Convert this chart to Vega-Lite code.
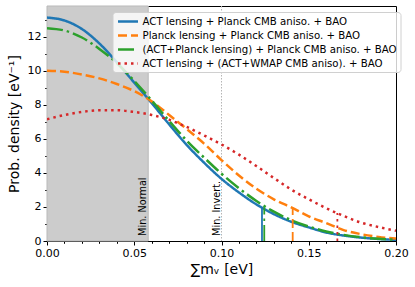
{
  "$schema": "https://vega.github.io/schema/vega-lite/v6.json",
  "width": 349,
  "height": 235,
  "autosize": {"type": "none"},
  "padding": {"left": 47, "top": 6, "right": 19, "bottom": 46},
  "config": {
    "view": {"stroke": "#000", "strokeWidth": 1},
    "font": "DejaVu Sans",
    "axis": {"labelFont": "DejaVu Sans", "titleFont": "DejaVu Sans", "domainColor": "#000", "tickColor": "#000", "labelColor": "#000", "titleColor": "#000", "grid": false, "titleFontWeight": "normal"},
    "text": {"font": "DejaVu Sans"}
  },
  "datasets": {
    "curves": [
      {"series": "ACT lensing + Planck CMB aniso. + BAO", "x": 0.00, "y": 13.12},
      {"series": "ACT lensing + Planck CMB aniso. + BAO", "x": 0.01, "y": 12.95},
      {"series": "ACT lensing + Planck CMB aniso. + BAO", "x": 0.02, "y": 12.45},
      {"series": "ACT lensing + Planck CMB aniso. + BAO", "x": 0.03, "y": 11.6},
      {"series": "ACT lensing + Planck CMB aniso. + BAO", "x": 0.04, "y": 10.5},
      {"series": "ACT lensing + Planck CMB aniso. + BAO", "x": 0.05, "y": 9.3},
      {"series": "ACT lensing + Planck CMB aniso. + BAO", "x": 0.06, "y": 8.1},
      {"series": "ACT lensing + Planck CMB aniso. + BAO", "x": 0.07, "y": 6.85},
      {"series": "ACT lensing + Planck CMB aniso. + BAO", "x": 0.08, "y": 5.65},
      {"series": "ACT lensing + Planck CMB aniso. + BAO", "x": 0.09, "y": 4.6},
      {"series": "ACT lensing + Planck CMB aniso. + BAO", "x": 0.10, "y": 3.65},
      {"series": "ACT lensing + Planck CMB aniso. + BAO", "x": 0.11, "y": 2.85},
      {"series": "ACT lensing + Planck CMB aniso. + BAO", "x": 0.12, "y": 2.15},
      {"series": "ACT lensing + Planck CMB aniso. + BAO", "x": 0.13, "y": 1.58},
      {"series": "ACT lensing + Planck CMB aniso. + BAO", "x": 0.14, "y": 1.13},
      {"series": "ACT lensing + Planck CMB aniso. + BAO", "x": 0.15, "y": 0.8},
      {"series": "ACT lensing + Planck CMB aniso. + BAO", "x": 0.16, "y": 0.5},
      {"series": "ACT lensing + Planck CMB aniso. + BAO", "x": 0.17, "y": 0.32},
      {"series": "ACT lensing + Planck CMB aniso. + BAO", "x": 0.18, "y": 0.2},
      {"series": "ACT lensing + Planck CMB aniso. + BAO", "x": 0.19, "y": 0.12},
      {"series": "ACT lensing + Planck CMB aniso. + BAO", "x": 0.20, "y": 0.07},
      {"series": "Planck lensing + Planck CMB aniso. + BAO", "x": 0.00, "y": 10.0},
      {"series": "Planck lensing + Planck CMB aniso. + BAO", "x": 0.01, "y": 9.94},
      {"series": "Planck lensing + Planck CMB aniso. + BAO", "x": 0.02, "y": 9.78},
      {"series": "Planck lensing + Planck CMB aniso. + BAO", "x": 0.03, "y": 9.55},
      {"series": "Planck lensing + Planck CMB aniso. + BAO", "x": 0.04, "y": 9.22},
      {"series": "Planck lensing + Planck CMB aniso. + BAO", "x": 0.05, "y": 8.8},
      {"series": "Planck lensing + Planck CMB aniso. + BAO", "x": 0.06, "y": 8.2},
      {"series": "Planck lensing + Planck CMB aniso. + BAO", "x": 0.07, "y": 7.4},
      {"series": "Planck lensing + Planck CMB aniso. + BAO", "x": 0.08, "y": 6.58},
      {"series": "Planck lensing + Planck CMB aniso. + BAO", "x": 0.09, "y": 5.72},
      {"series": "Planck lensing + Planck CMB aniso. + BAO", "x": 0.10, "y": 4.75},
      {"series": "Planck lensing + Planck CMB aniso. + BAO", "x": 0.11, "y": 3.85},
      {"series": "Planck lensing + Planck CMB aniso. + BAO", "x": 0.12, "y": 3.07},
      {"series": "Planck lensing + Planck CMB aniso. + BAO", "x": 0.13, "y": 2.45},
      {"series": "Planck lensing + Planck CMB aniso. + BAO", "x": 0.14, "y": 1.97},
      {"series": "Planck lensing + Planck CMB aniso. + BAO", "x": 0.15, "y": 1.45},
      {"series": "Planck lensing + Planck CMB aniso. + BAO", "x": 0.16, "y": 1.05},
      {"series": "Planck lensing + Planck CMB aniso. + BAO", "x": 0.17, "y": 0.64},
      {"series": "Planck lensing + Planck CMB aniso. + BAO", "x": 0.18, "y": 0.4},
      {"series": "Planck lensing + Planck CMB aniso. + BAO", "x": 0.19, "y": 0.24},
      {"series": "Planck lensing + Planck CMB aniso. + BAO", "x": 0.20, "y": 0.14},
      {"series": "(ACT+Planck lensing) + Planck CMB aniso. + BAO", "x": 0.00, "y": 12.5},
      {"series": "(ACT+Planck lensing) + Planck CMB aniso. + BAO", "x": 0.01, "y": 12.36},
      {"series": "(ACT+Planck lensing) + Planck CMB aniso. + BAO", "x": 0.02, "y": 11.95},
      {"series": "(ACT+Planck lensing) + Planck CMB aniso. + BAO", "x": 0.03, "y": 11.28},
      {"series": "(ACT+Planck lensing) + Planck CMB aniso. + BAO", "x": 0.04, "y": 10.45},
      {"series": "(ACT+Planck lensing) + Planck CMB aniso. + BAO", "x": 0.05, "y": 9.4},
      {"series": "(ACT+Planck lensing) + Planck CMB aniso. + BAO", "x": 0.06, "y": 8.25},
      {"series": "(ACT+Planck lensing) + Planck CMB aniso. + BAO", "x": 0.07, "y": 7.05},
      {"series": "(ACT+Planck lensing) + Planck CMB aniso. + BAO", "x": 0.08, "y": 5.9},
      {"series": "(ACT+Planck lensing) + Planck CMB aniso. + BAO", "x": 0.09, "y": 4.9},
      {"series": "(ACT+Planck lensing) + Planck CMB aniso. + BAO", "x": 0.10, "y": 3.95},
      {"series": "(ACT+Planck lensing) + Planck CMB aniso. + BAO", "x": 0.11, "y": 3.1},
      {"series": "(ACT+Planck lensing) + Planck CMB aniso. + BAO", "x": 0.12, "y": 2.35},
      {"series": "(ACT+Planck lensing) + Planck CMB aniso. + BAO", "x": 0.13, "y": 1.72},
      {"series": "(ACT+Planck lensing) + Planck CMB aniso. + BAO", "x": 0.14, "y": 1.22},
      {"series": "(ACT+Planck lensing) + Planck CMB aniso. + BAO", "x": 0.15, "y": 0.85},
      {"series": "(ACT+Planck lensing) + Planck CMB aniso. + BAO", "x": 0.16, "y": 0.56},
      {"series": "(ACT+Planck lensing) + Planck CMB aniso. + BAO", "x": 0.17, "y": 0.36},
      {"series": "(ACT+Planck lensing) + Planck CMB aniso. + BAO", "x": 0.18, "y": 0.22},
      {"series": "(ACT+Planck lensing) + Planck CMB aniso. + BAO", "x": 0.19, "y": 0.13},
      {"series": "(ACT+Planck lensing) + Planck CMB aniso. + BAO", "x": 0.20, "y": 0.08},
      {"series": "ACT lensing + (ACT+WMAP CMB aniso). + BAO", "x": 0.00, "y": 7.15},
      {"series": "ACT lensing + (ACT+WMAP CMB aniso). + BAO", "x": 0.01, "y": 7.4},
      {"series": "ACT lensing + (ACT+WMAP CMB aniso). + BAO", "x": 0.02, "y": 7.58},
      {"series": "ACT lensing + (ACT+WMAP CMB aniso). + BAO", "x": 0.03, "y": 7.68},
      {"series": "ACT lensing + (ACT+WMAP CMB aniso). + BAO", "x": 0.04, "y": 7.68},
      {"series": "ACT lensing + (ACT+WMAP CMB aniso). + BAO", "x": 0.05, "y": 7.58},
      {"series": "ACT lensing + (ACT+WMAP CMB aniso). + BAO", "x": 0.06, "y": 7.4},
      {"series": "ACT lensing + (ACT+WMAP CMB aniso). + BAO", "x": 0.07, "y": 7.12},
      {"series": "ACT lensing + (ACT+WMAP CMB aniso). + BAO", "x": 0.08, "y": 6.7},
      {"series": "ACT lensing + (ACT+WMAP CMB aniso). + BAO", "x": 0.09, "y": 6.2},
      {"series": "ACT lensing + (ACT+WMAP CMB aniso). + BAO", "x": 0.10, "y": 5.67},
      {"series": "ACT lensing + (ACT+WMAP CMB aniso). + BAO", "x": 0.11, "y": 5.07},
      {"series": "ACT lensing + (ACT+WMAP CMB aniso). + BAO", "x": 0.12, "y": 4.4},
      {"series": "ACT lensing + (ACT+WMAP CMB aniso). + BAO", "x": 0.13, "y": 3.7},
      {"series": "ACT lensing + (ACT+WMAP CMB aniso). + BAO", "x": 0.14, "y": 3.02},
      {"series": "ACT lensing + (ACT+WMAP CMB aniso). + BAO", "x": 0.15, "y": 2.45},
      {"series": "ACT lensing + (ACT+WMAP CMB aniso). + BAO", "x": 0.16, "y": 1.93},
      {"series": "ACT lensing + (ACT+WMAP CMB aniso). + BAO", "x": 0.17, "y": 1.47},
      {"series": "ACT lensing + (ACT+WMAP CMB aniso). + BAO", "x": 0.18, "y": 1.08},
      {"series": "ACT lensing + (ACT+WMAP CMB aniso). + BAO", "x": 0.19, "y": 0.82},
      {"series": "ACT lensing + (ACT+WMAP CMB aniso). + BAO", "x": 0.20, "y": 0.6}
    ],
    "limits": [
      {"series": "ACT lensing + Planck CMB aniso. + BAO", "x": 0.1232, "lo": 0, "top": 1.96},
      {"series": "Planck lensing + Planck CMB aniso. + BAO", "x": 0.1408, "lo": 0, "top": 1.95},
      {"series": "(ACT+Planck lensing) + Planck CMB aniso. + BAO", "x": 0.1245, "lo": 0, "top": 1.98},
      {"series": "ACT lensing + (ACT+WMAP CMB aniso). + BAO", "x": 0.1664, "lo": 0, "top": 1.65}
    ],
    "region": [{"x": 0, "x2": 0.058, "lo": 0, "hi": 13.8}],
    "marks": [{"x": 0.1}],
    "notes": [
      {"x": 0.058, "y": 0.3, "label": "Min. Normal"},
      {"x": 0.1, "y": 0.3, "label": "Min. Invert."}
    ]
  },
  "encoding": {
    "x": {
      "field": "x", "type": "quantitative",
      "scale": {"domain": [0, 0.2], "nice": false, "zero": false},
      "axis": {
        "values": [0, 0.01, 0.02, 0.03, 0.04, 0.05, 0.06, 0.07, 0.08, 0.09, 0.1, 0.11, 0.12, 0.13, 0.14, 0.15, 0.16, 0.17, 0.18, 0.19, 0.2],
        "labelExpr": "abs(datum.value*20-round(datum.value*20))<0.001 ? format(datum.value,'.2f') : ''",
        "tickSize": {"condition": {"test": "abs(datum.value*20-round(datum.value*20))<0.001", "value": 4}, "value": 2.3},
        "labelFlush": false, "labelOverlap": false,
        "labelFontSize": 11, "labelPadding": 2,
        "title": "∑m\u1d65 [eV]", "titleFontSize": 14, "titlePadding": 4
      }
    }
  },
  "layer": [
    {
      "data": {"name": "region"},
      "mark": {"type": "rect", "color": "#cccccc", "stroke": "#b9b9b9", "strokeWidth": 1},
      "encoding": {
        "x2": {"field": "x2"},
        "y": {
          "field": "lo", "type": "quantitative",
          "scale": {"domain": [0, 13.8], "nice": false},
          "axis": {
            "values": [0, 1, 2, 3, 4, 5, 6, 7, 8, 9, 10, 11, 12, 13],
            "labelExpr": "datum.value % 2 === 0 ? format(datum.value,'d') : ''",
            "tickSize": {"condition": {"test": "datum.value % 2 === 0", "value": 4}, "value": 2.3},
            "labelOverlap": false, "labelFontSize": 11, "labelPadding": 2,
            "title": "Prob. density [eV\u207b\u00b9]", "titleFontSize": 14, "titlePadding": 6
          }
        },
        "y2": {"field": "hi"}
      }
    },
    {
      "data": {"name": "marks"},
      "mark": {"type": "rule", "color": "#b5b5b5", "strokeWidth": 1, "strokeDash": [1.5, 1.5]},
      "encoding": {}
    },
    {
      "data": {"name": "curves"},
      "mark": {"type": "line", "interpolate": "monotone", "strokeWidth": 2.5, "clip": true},
      "encoding": {
        "y": {
          "field": "y", "type": "quantitative",
          "scale": {"domain": [0, 13.8], "nice": false},
          "axis": {
            "values": [0, 1, 2, 3, 4, 5, 6, 7, 8, 9, 10, 11, 12, 13],
            "labelExpr": "datum.value % 2 === 0 ? format(datum.value,'d') : ''",
            "tickSize": {"condition": {"test": "datum.value % 2 === 0", "value": 4}, "value": 2.3},
            "labelOverlap": false, "labelFontSize": 11, "labelPadding": 2,
            "title": "Prob. density [eV\u207b\u00b9]", "titleFontSize": 14, "titlePadding": 6
          }
        },
        "color": {
          "field": "series", "type": "nominal",
          "scale": {
            "domain": ["ACT lensing + Planck CMB aniso. + BAO", "Planck lensing + Planck CMB aniso. + BAO", "(ACT+Planck lensing) + Planck CMB aniso. + BAO", "ACT lensing + (ACT+WMAP CMB aniso). + BAO"],
            "range": ["#1f77b4", "#ff7f0e", "#2ca02c", "#d62728"]
          },
          "legend": {
            "title": null, "orient": "none", "legendX": 65.5, "legendY": 6,
            "symbolType": "M-2,0H2", "symbolSize": 100, "symbolStrokeWidth": 2.5, "symbolOffset": 6,
            "labelFontSize": 10.2, "labelFont": "DejaVu Sans", "labelColor": "#000",
            "strokeColor": "#d0d0d0", "fillColor": "rgba(255,255,255,0.8)", "cornerRadius": 3,
            "padding": 3, "rowPadding": 2, "labelOffset": 8, "labelLimit": 400
          }
        },
        "strokeDash": {
          "field": "series", "type": "nominal",
          "scale": {
            "domain": ["ACT lensing + Planck CMB aniso. + BAO", "Planck lensing + Planck CMB aniso. + BAO", "(ACT+Planck lensing) + Planck CMB aniso. + BAO", "ACT lensing + (ACT+WMAP CMB aniso). + BAO"],
            "range": [[1, 0], [9, 4], [16, 4, 2.5, 4], [2.5, 4]]
          }
        }
      }
    },
    {
      "data": {"name": "limits"},
      "mark": {"type": "rule", "strokeWidth": 1.8},
      "encoding": {
        "y": {
          "field": "lo", "type": "quantitative",
          "scale": {"domain": [0, 13.8], "nice": false},
          "axis": {
            "values": [0, 1, 2, 3, 4, 5, 6, 7, 8, 9, 10, 11, 12, 13],
            "labelExpr": "datum.value % 2 === 0 ? format(datum.value,'d') : ''",
            "tickSize": {"condition": {"test": "datum.value % 2 === 0", "value": 4}, "value": 2.3},
            "labelOverlap": false, "labelFontSize": 11, "labelPadding": 2,
            "title": "Prob. density [eV\u207b\u00b9]", "titleFontSize": 14, "titlePadding": 6
          }
        },
        "y2": {"field": "top"},
        "color": {"field": "series", "type": "nominal", "legend": null},
        "strokeDash": {"field": "series", "type": "nominal", "legend": null}
      }
    },
    {
      "data": {"name": "notes"},
      "mark": {"type": "text", "angle": 270, "align": "left", "baseline": "bottom", "fontSize": 9.7, "color": "#000"},
      "encoding": {
        "y": {
          "field": "y", "type": "quantitative",
          "scale": {"domain": [0, 13.8], "nice": false},
          "axis": {
            "values": [0, 1, 2, 3, 4, 5, 6, 7, 8, 9, 10, 11, 12, 13],
            "labelExpr": "datum.value % 2 === 0 ? format(datum.value,'d') : ''",
            "tickSize": {"condition": {"test": "datum.value % 2 === 0", "value": 4}, "value": 2.3},
            "labelOverlap": false, "labelFontSize": 11, "labelPadding": 2,
            "title": "Prob. density [eV\u207b\u00b9]", "titleFontSize": 14, "titlePadding": 6
          }
        },
        "text": {"field": "label"}
      }
    }
  ]
}
